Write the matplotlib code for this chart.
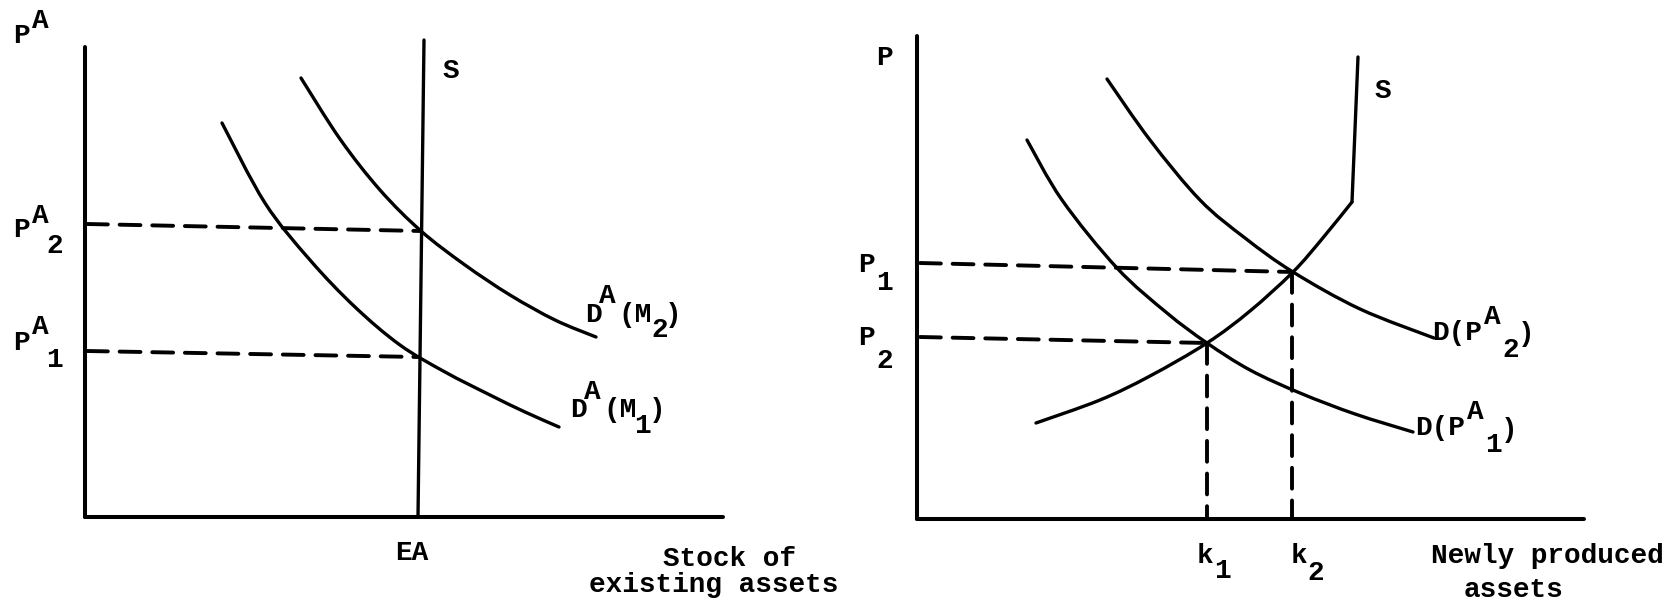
import matplotlib
matplotlib.use("Agg")
import matplotlib.pyplot as plt
import numpy as np
from matplotlib.path import Path
from matplotlib.patches import PathPatch

# left panel: market for existing assets (units: quantity q, price p)
axis_left_top = 470
axis_left_right = 638
supply_left_q = [333, 339]
supply_left_p = [0, 477]
dem_m1_q = [137, 180, 225, 270, 315, 360, 405, 440, 474]
dem_m1_p = [394, 314, 257, 210, 172, 145, 122, 105, 90]
dem_m2_q = [216, 255, 295, 336, 380, 425, 470, 511]
dem_m2_p = [439, 378, 327, 286, 252, 222, 197, 180]
pa2_q = [2, 336]
pa2_p = [293, 286]
pa1_q = [2, 333]
pa1_p = [166, 160]

# right panel: market for newly produced assets
axis_right_top = 483
axis_right_right = 667
supply_right_q = [119, 183, 233, 290, 333, 376, 405, 435]
supply_right_p = [96, 119, 143, 176, 208, 247, 280, 317]
supply_top_q = [435, 441]
supply_top_p = [317, 462]
dem_pa1_q = [110, 145, 200, 250, 290, 333, 383, 438, 496]
dem_pa1_p = [379, 319, 251, 206, 176, 149, 126, 105, 87]
dem_pa2_q = [190, 233, 283, 328, 376, 443, 517]
dem_pa2_p = [440, 379, 319, 281, 247, 210, 181]
p1_q = [3, 376]
p1_p = [256, 247]
p2_q = [3, 290]
p2_p = [182, 176]
k1 = 290
k2 = 375

W, H = 1665, 603
plt.rcParams['font.family'] = ['Liberation Mono', 'DejaVu Sans Mono']
plt.rcParams['font.weight'] = 'bold'
plt.rcParams['lines.scale_dashes'] = False

fig = plt.figure(figsize=(W / 100, H / 100), dpi=100)
fig.patch.set_facecolor('white')

ax1 = fig.add_axes([0, 0, 832 / W, 1])
ax1.set_xlim(-85, 747)
ax1.set_ylim(-86, 517)
ax2 = fig.add_axes([832 / W, 0, 833 / W, 1])
ax2.set_xlim(-85, 748)
ax2.set_ylim(-84, 519)
for ax in (ax1, ax2):
    ax.axis('off')

axis_kw = dict(color='black', lw=2.9, solid_capstyle='round', solid_joinstyle='round')
curve_kw = dict(color='black', lw=2.4, solid_capstyle='round', solid_joinstyle='round')
dash_kw = dict(color='black', lw=2.8, linestyle=(0, (15, 8.5)), dash_capstyle='round')


def smooth(ax, qs, ps):
    # smooth curve through the read points (catmull-rom as bezier segments)
    pts = np.column_stack([qs, ps]).astype(float)
    n = len(pts)
    verts = [pts[0]]
    codes = [Path.MOVETO]
    for i in range(n - 1):
        a = pts[i - 1] if i > 0 else pts[i]
        b, c = pts[i], pts[i + 1]
        d = pts[i + 2] if i + 2 < n else pts[i + 1]
        verts += [b + (c - a) / 6, c - (d - b) / 6, c]
        codes += [Path.CURVE4] * 3
    ax.add_patch(PathPatch(Path(verts, codes), fill=False, edgecolor='black',
                           lw=2.4, capstyle='round', joinstyle='round'))


# left
ax1.plot([0, 0], [0, axis_left_top], **axis_kw)
ax1.plot([0, axis_left_right], [0, 0], **axis_kw)
ax1.plot(supply_left_q, supply_left_p, **curve_kw)
smooth(ax1, dem_m1_q, dem_m1_p)
smooth(ax1, dem_m2_q, dem_m2_p)
ax1.plot(pa2_q, pa2_p, **dash_kw)
ax1.plot(pa1_q, pa1_p, **dash_kw)

# right
ax2.plot([0, 0], [0, axis_right_top], **axis_kw)
ax2.plot([0, axis_right_right], [0, 0], **axis_kw)
smooth(ax2, supply_right_q, supply_right_p)
ax2.plot(supply_top_q, supply_top_p, **curve_kw)
smooth(ax2, dem_pa1_q, dem_pa1_p)
smooth(ax2, dem_pa2_q, dem_pa2_p)
ax2.plot(p1_q, p1_p, **dash_kw)
ax2.plot(p2_q, p2_p, **dash_kw)
ax2.plot([k1, k1], [p2_p[1], 0], **dash_kw)
ax2.plot([k2, k2], [p1_p[1], 0], **dash_kw)


def put(x, y, s, ha='left'):
    fig.text(x / W, 1 - y / H, s, ha=ha, va='baseline', fontsize=20,
             fontweight='bold')


labels = [
    (13, 43, "P"), (32, 28, "A"),
    (13, 237, "P"), (32, 223, "A"), (46, 253, "2"),
    (13, 350, "P"), (32, 334, "A"), (46, 367, "1"),
    (443, 78, "S"), (395, 560, "EA"),
    (585, 322, "D"), (599, 303, "A"), (618, 322, "(M"), (651, 337, "2"), (665, 322, ")"),
    (570, 417, "D"), (584, 399, "A"), (603, 417, "(M"), (634, 433, "1"), (649, 417, ")"),
    (876, 65, "P"), (1375, 98, "S"),
    (858, 272, "P"), (876, 290, "1"),
    (858, 345, "P"), (876, 368, "2"),
    (1197, 563, "k"), (1214, 578, "1"),
    (1291, 563, "k"), (1307, 580, "2"),
    (1432, 340, "D(P"), (1484, 324, "A"), (1502, 357, "2"), (1518, 341, ")"),
    (1415, 435, "D(P"), (1467, 419, "A"), (1485, 452, "1"), (1501, 437, ")"),
]
for x, y, s in labels:
    put(x, y, s)

put(730, 566, "Stock of", ha='center')
put(714, 592, "existing assets", ha='center')
put(1547, 563, "Newly produced", ha='center')
put(1514, 597, "assets", ha='center')

fig.savefig('out.png', dpi=100, facecolor='white')
